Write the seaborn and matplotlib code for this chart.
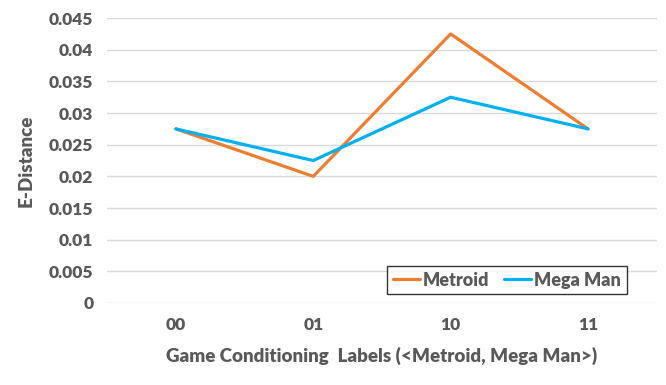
import matplotlib
matplotlib.use('Agg')
import matplotlib.pyplot as plt
import pandas as pd
import seaborn as sns

labels = ['00', '01', '10', '11']
metroid = [0.0275, 0.0200, 0.0425, 0.0275]
mega_man = [0.0275, 0.0225, 0.0325, 0.0275]
yticks = [0, 0.005, 0.01, 0.015, 0.02, 0.025, 0.03, 0.035, 0.04, 0.045]
ytick_labels = ['0', '0.005', '0.01', '0.015', '0.02', '0.025', '0.03', '0.035', '0.04', '0.045']

df = pd.DataFrame({
    'label': labels * 2,
    'pos': list(range(len(labels))) * 2,
    'value': metroid + mega_man,
    'game': ['Metroid'] * len(labels) + ['Mega Man'] * len(labels),
})

sns.set_style('white')
plt.rcParams['font.family'] = ['Lato', 'DejaVu Sans']
text_color = '#595959'

fig = plt.figure(figsize=(6.66, 3.85), dpi=100)
ax = fig.add_axes([0.161, 0.213, 0.825, 0.740])

sns.lineplot(data=df, x='pos', y='value', hue='game',
             palette={'Metroid': '#ED7D31', 'Mega Man': '#00B0F0'},
             linewidth=2.3, ax=ax)

ax.set_xlim(-0.5, 3.5)
ax.set_ylim(0, 0.045)
ax.set_xticks(range(len(labels)))
ax.set_xticklabels(labels)
ax.set_yticks(yticks)
ax.set_yticklabels(ytick_labels)
ax.yaxis.grid(True, color='#D9D9D9', linewidth=1)
ax.set_axisbelow(True)
for s in ax.spines.values():
    s.set_visible(False)
ax.tick_params(axis='both', length=0, labelsize=12.5, labelcolor=text_color, pad=10)
for t in ax.get_xticklabels() + ax.get_yticklabels():
    t.set_fontweight('heavy')

ax.set_xlabel('Game Conditioning  Labels (<Metroid, Mega Man>)', fontsize=13.5,
              fontweight='heavy', color=text_color, labelpad=10)
ax.set_ylabel('E-Distance', fontsize=13.5, fontweight='heavy', color=text_color, labelpad=10)

leg = ax.legend(loc='lower left', bbox_to_anchor=(0.493, 0.0, 0.469, 0.112),
                mode='expand', ncol=2, frameon=True, fancybox=False,
                fontsize=13, handlelength=1.5, handletextpad=0.2,
                borderpad=0.3, columnspacing=0.8)
leg.get_frame().set_edgecolor('black')
leg.get_frame().set_linewidth(1.0)
for t in leg.get_texts():
    t.set_color(text_color)
    t.set_fontweight('heavy')

fig.savefig('out.png', dpi=100)
